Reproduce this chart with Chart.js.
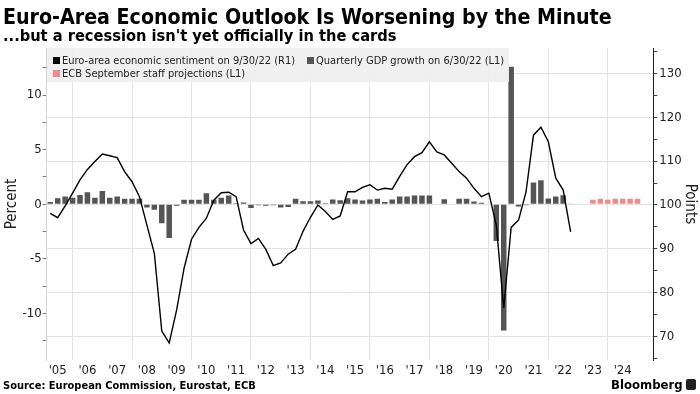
<!DOCTYPE html>
<html><head><meta charset="utf-8">
<script src="https://cdn.jsdelivr.net/npm/chart.js@4.4.1/dist/chart.umd.min.js"></script>
<style>
html,body{margin:0;padding:0;background:#fff;}
body{width:700px;height:394px;position:relative;overflow:hidden;font-family:"DejaVu Sans Condensed","DejaVu Sans",sans-serif;}
#c{position:absolute;left:0;top:0;}
.t{position:absolute;white-space:nowrap;color:#000;}
.sq{position:absolute;width:7px;height:7px;}
</style></head><body>
<canvas id="c" width="700" height="394"></canvas>
<div class="t" style="left:3px;top:6px;font-size:21.2px;line-height:21px;font-weight:bold;">Euro-Area Economic Outlook Is Worsening by the Minute</div>
<div class="t" style="left:3px;top:27.5px;font-size:16.3px;line-height:16px;font-weight:bold;">...but a recession isn't yet officially in the cards</div>
<div style="position:absolute;left:47px;top:48px;width:462px;height:34px;background:rgba(239,239,239,0.93);"></div>
<div class="sq" style="left:53px;top:57px;background:#000;"></div>
<div class="t" style="left:62px;top:54.7px;font-size:11px;line-height:11px;color:#222;">Euro-area economic sentiment on 9/30/22 (R1)</div>
<div class="sq" style="left:307px;top:57px;background:#555;"></div>
<div class="t" style="left:316px;top:54.7px;font-size:11px;line-height:11px;color:#222;">Quarterly GDP growth on 6/30/22 (L1)</div>
<div class="sq" style="left:53px;top:70px;background:#f08a8e;"></div>
<div class="t" style="left:62px;top:67.7px;font-size:11px;line-height:11px;color:#222;">ECB September staff projections (L1)</div>
<div class="t" style="left:3px;top:380px;font-size:11px;line-height:11px;font-weight:bold;">Source: European Commission, Eurostat, ECB</div>
<div class="t" style="left:611px;top:377.5px;font-size:13px;line-height:13px;font-weight:bold;">Bloomberg</div>
<div style="position:absolute;left:686px;top:379px;width:10px;height:11px;background:#222;border-radius:2px;"></div>
<script>
// Quarterly data, first value = 2005 Q1, plotted at quarter end
const startYear = 2005;
const gdpGrowth = [
  0.2, 0.55, 0.7, 0.6,
  0.85, 1.1, 0.6, 1.2,
  0.6, 0.7, 0.5, 0.5,
  0.5, -0.3, -0.5, -1.75,
  -3.1, -0.15, 0.4, 0.4,
  0.4, 1.0, 0.4, 0.6,
  0.8, 0.1, 0.15, -0.35,
  -0.1, -0.15, -0.1, -0.3,
  -0.25, 0.5, 0.27, 0.27,
  0.33, 0.1, 0.43, 0.37,
  0.55, 0.43, 0.33, 0.43,
  0.5, 0.2, 0.43, 0.7,
  0.7, 0.8, 0.8, 0.8,
  0.05, 0.45, 0.05, 0.5,
  0.5, 0.25, 0.13, 0.05,
  -3.36, -11.57, 12.6, -0.2,
  -0.1, 2.0, 2.2, 0.52,
  0.7, 0.82
];
const sentiment = [
  98.1, 97.1, 99.8, 102.7,
  105.7, 108.1, 109.9, 111.6,
  111.2, 110.8, 107.6, 105.3,
  101.9, 95.4, 89.0, 71.3,
  68.6, 76.1, 85.6, 92.2,
  94.9, 97.0, 101.1, 102.8,
  102.9, 101.9, 94.3, 91.2,
  92.4, 89.9, 86.2, 86.8,
  88.8, 89.9, 94.0, 97.2,
  100.0, 98.5, 96.7, 97.5,
  103.0, 103.0, 104.0, 104.6,
  103.4, 103.8, 103.6, 106.5,
  109.2, 111.0, 111.9, 114.4,
  112.1, 111.4, 109.5, 107.6,
  106.1, 103.8, 101.9, 102.7,
  95.4, 76.5, 94.9, 96.6,
  103.0, 115.9, 117.7, 114.4,
  106.1, 103.4, 93.9
];
// ECB projections: 2022 Q3 .. 2024 Q4
const ecbStartIndex = 70;
const ecbProjection = [0.06, -0.06, -0.06, 0.4, 0.5, 0.4, 0.5, 0.5, 0.5, 0.5];
const yearLabels = [2005,2006,2007,2008,2009,2010,2011,2012,2013,2014,2015,2016,2017,2018,2019,2020,2021,2022,2023,2024];
const gridYears = [2006,2008,2010,2012,2014,2016,2018,2020,2022,2024];
const leftTicks = [-12.5,-10,-7.5,-5,-2.5,0,2.5,5,7.5,10,12.5];
const rightTicks = [65,70,75,80,85,90,95,100,105,110,115,120,125,130,135];

const qEnd = i => startYear + (i + 1) / 4;
const tickFont = {family: '"DejaVu Sans Condensed","DejaVu Sans",sans-serif', size: 13};

new Chart(document.getElementById('c'), {
  type: 'bar',
  data: {
    datasets: [
      {type:'line', label:'Euro-area economic sentiment on 9/30/22 (R1)',
       data: sentiment.map((v,i)=>({x:qEnd(i), y:v})), yAxisID:'y1',
       borderColor:'#000', borderWidth:1.4, pointRadius:0, tension:0, order:0},
      {type:'bar', label:'Quarterly GDP growth on 6/30/22 (L1)',
       data: gdpGrowth.map((v,i)=>({x:qEnd(i), y:v})), yAxisID:'y',
       backgroundColor:'#555', grouped:false, barPercentage:0.74, categoryPercentage:1, order:1},
      {type:'bar', label:'ECB September staff projections (L1)',
       data: ecbProjection.map((v,i)=>({x:qEnd(ecbStartIndex+i), y:v})), yAxisID:'y',
       backgroundColor:'#f08a8e', grouped:false, barPercentage:0.74, categoryPercentage:1, order:2}
    ]
  },
  options: {
    responsive:false, animation:false, devicePixelRatio:1,
    layout:{padding:{top:48,left:0,right:0,bottom:0}},
    plugins:{legend:{display:false}, tooltip:{enabled:false}},
    scales:{
      x:{type:'linear', min:2005.13, max:2025.53, offset:false,
        afterFit: s => { s.height = 34; },
        afterBuildTicks: s => {
          const t = [];
          yearLabels.forEach(y => t.push({value:y+0.5}));
          gridYears.forEach(y => t.push({value:y}));
          t.sort((a,b)=>a.value-b.value);
          s.ticks = t;
        },
        grid:{offset:false, drawTicks:false,
          color: c => (c.tick && Number.isInteger(c.tick.value)) ? '#e3e3e3' : 'rgba(0,0,0,0)'},
        border:{display:false},
        ticks:{autoSkip:false, maxRotation:0, padding:3, font:tickFont, color:'#222',
          callback: v => (Math.abs(v % 1 - 0.5) < 1e-6) ? "'" + String(Math.floor(v)).slice(2) : ''}
      },
      y:{position:'left', min:-14.27, max:14.31,
        afterFit: s => { s.width = 46.7; },
        afterBuildTicks: s => { s.ticks = leftTicks.map(v=>({value:v})); },
        grid:{drawOnChartArea:false, tickLength:4, tickColor:'#777'},
        border:{display:true, color:'#d6d6d6'},
        title:{display:true, text:'Percent', font:{family:tickFont.family, size:15}, color:'#222', padding:{top:3,bottom:0}},
        ticks:{autoSkip:false, padding:1, font:tickFont, color:'#222',
          callback: v => (v % 5 === 0) ? String(v) : ''}
      },
      y1:{position:'right', min:64.7, max:135.75,
        afterFit: s => { s.width = 46.7; },
        afterBuildTicks: s => { s.ticks = rightTicks.map(v=>({value:v})); },
        grid:{drawOnChartArea:true, tickLength:4, tickColor:'#444',
          color: c => (c.tick && c.tick.value % 10 === 0) ? '#e3e3e3' : 'rgba(0,0,0,0)'},
        border:{display:true, color:'#222'},
        title:{display:true, text:'Points', font:{family:tickFont.family, size:15}, color:'#222', padding:{top:1,bottom:0}},
        ticks:{autoSkip:false, padding:2, font:tickFont, color:'#222',
          callback: v => (v % 10 === 0) ? String(v) : ''}
      }
    }
  }
});
</script>
</body></html>
